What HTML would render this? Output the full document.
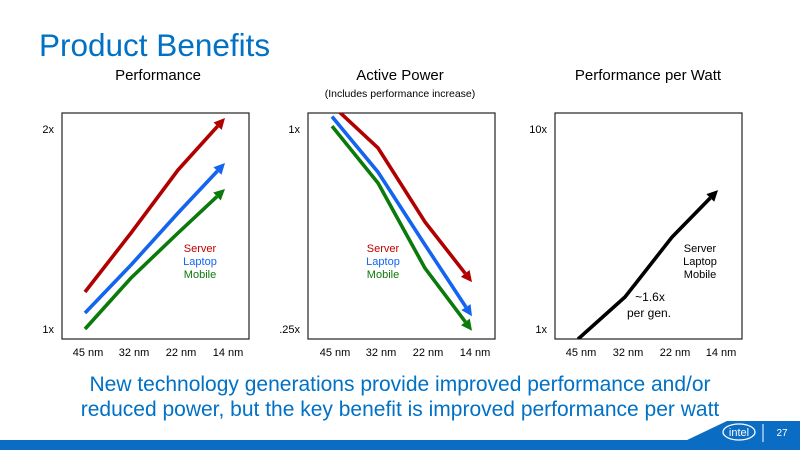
<!DOCTYPE html>
<html><head><meta charset="utf-8"><style>
html,body{margin:0;padding:0;background:#fff;width:800px;height:450px;overflow:hidden}
svg{display:block;font-family:"Liberation Sans",sans-serif}
</style></head><body>
<svg id="s" width="800" height="450" viewBox="0 0 800 450">
<text x="39" y="56" font-size="31.5" font-weight="300" fill="#0071c5">Product Benefits</text>
<text x="158" y="80" font-size="15" text-anchor="middle" fill="#000">Performance</text>
<text x="400" y="80" font-size="15" text-anchor="middle" fill="#000">Active Power</text>
<text x="400" y="97" font-size="10.5" text-anchor="middle" fill="#000">(Includes performance increase)</text>
<text x="648" y="80" font-size="15" text-anchor="middle" fill="#000">Performance per Watt</text>
<g id="charts"></g>
<text x="400" y="391" font-size="21" text-anchor="middle" fill="#0071c5">New technology generations provide improved performance and/or</text>
<text x="400" y="416" font-size="21" text-anchor="middle" fill="#0071c5">reduced power, but the key benefit is improved performance per watt</text>
<rect x="0" y="440" width="800" height="10" fill="#0a6cc2"/>
<polygon points="685,441 727,421 800,421 800,441" fill="#0a6cc2"/>
<ellipse cx="739" cy="432" rx="16" ry="8" fill="none" stroke="#fff" stroke-width="1.3"/>
<text x="739" y="436" font-size="11" text-anchor="middle" fill="#fff">intel</text>
<line x1="763" y1="424" x2="763" y2="442" stroke="#fff" stroke-width="1"/>
<text x="782" y="436" font-size="10" text-anchor="middle" fill="#fff">27</text>
</svg>
<script>
const categories = ["45 nm","32 nm","22 nm","14 nm"];
const perfServer = [1.185, 1.48, 1.795, 2.055];
const perfLaptop = [1.08, 1.32, 1.58, 1.83];
const perfMobile = [1.0, 1.255, 1.48, 1.70];
const perfTicks = ["1x","2x"];
const powerServer = [1.18, 0.877, 0.525, 0.346];
const powerLaptop = [1.09, 0.742, 0.448, 0.273];
const powerMobile = [1.02, 0.688, 0.381, 0.247];
const powerTicks = [".25x","1x"];
const ppwAll = [0.89, 1.445, 2.88, 4.95];
const ppwTicks = ["1x","10x"];

const NS="http://www.w3.org/2000/svg";
const root=document.getElementById('charts');
function mk(tag,attrs,parent){const e=document.createElementNS(NS,tag);for(const k in attrs)e.setAttribute(k,attrs[k]);(parent||root).appendChild(e);return e;}

const panels=[
 {left:62, name:'performance', series:[[perfServer,'#b00000','server'],[perfLaptop,'#1464f0','laptop'],[perfMobile,'#0a7a0a','mobile']],
  y:v=>329-(v-1)*200, ticks:perfTicks, tickVals:[1,2], xs:[85,131,178,225], legend:[['Server','#c00000'],['Laptop','#1464f0'],['Mobile','#0a7a0a']], lx:200, ly:252},
 {left:308, name:'active-power', series:[[powerServer,'#b00000','server'],[powerLaptop,'#1464f0','laptop'],[powerMobile,'#0a7a0a','mobile']],
  y:v=>129-Math.log2(v)*100, ticks:powerTicks, tickVals:[0.25,1], xs:[332,378,425,472], legend:[['Server','#c00000'],['Laptop','#1464f0'],['Mobile','#0a7a0a']], lx:383, ly:252},
 {left:555, name:'perf-per-watt', series:[[ppwAll,'#000','all']],
  y:v=>329-Math.log10(v)*200, ticks:ppwTicks, tickVals:[1,10], xs:[578,625,672,718], legend:[['Server','#000'],['Laptop','#000'],['Mobile','#000']], lx:700, ly:252}
];
const W=187, TOP=113, BOT=339;
panels.forEach((p,pi)=>{
  const g=mk('g',{});
  
  
  const cp=mk('clipPath',{id:'cp'+pi},g);
  mk('rect',{x:p.left,y:TOP,width:W,height:BOT-TOP},cp);
  const box=mk('rect',{x:p.left,y:TOP,width:W,height:BOT-TOP,fill:'none',stroke:'#222','stroke-width':1.2},g);
  
  
  p.ticks.forEach((t,i)=>{
    const tx=mk('text',{x:p.left-8,y:p.y(p.tickVals[i])+4,'font-size':11,'text-anchor':'end',fill:'#000'},g);
    tx.textContent=t;
    
    
  });
  categories.forEach((c,i)=>{
    const tx=mk('text',{x:p.xs[i]+3,y:356,'font-size':11,'text-anchor':'middle',fill:'#000'},g);
    tx.textContent=c;
    
    
  });
  p.series.forEach(([vals,col,nm])=>{
    const pts=vals.map((v,i)=>[p.xs[i],p.y(v)]);
    const n=pts.length,a=pts[n-2],b=pts[n-1];
    const dx=b[0]-a[0],dy=b[1]-a[1],L=Math.hypot(dx,dy),ux=dx/L,uy=dy/L;
    const ah=11, aw=5.5;
    const base=[b[0]-ux*ah,b[1]-uy*ah];
    const linePts=pts.slice(0,n-1).concat([base]);
    const pl=mk('polyline',{points:linePts.map(q=>q.join(',')).join(' '),fill:'none',stroke:col,'stroke-width':3.6,'stroke-linejoin':'round','clip-path':'url(#cp'+pi+')'},g);
    
    
    const hd=mk('polygon',{points:[b,[base[0]-uy*aw,base[1]+ux*aw],[base[0]+uy*aw,base[1]-ux*aw]].map(q=>q.join(',')).join(' '),fill:col},g);
    
    
  });
  p.legend.forEach(([t,c],i)=>{
    const tx=mk('text',{x:p.lx,y:p.ly+i*13,'font-size':11,'text-anchor':'middle',fill:c},g);
    tx.textContent=t;
    
    
  });
});
const a1=mk('text',{x:650,y:301,'font-size':12,'text-anchor':'middle',fill:'#000'});
a1.textContent='~1.6x';


const a2=mk('text',{x:649,y:317,'font-size':12,'text-anchor':'middle',fill:'#000'});
a2.textContent='per gen.';


</script>
</body></html>
